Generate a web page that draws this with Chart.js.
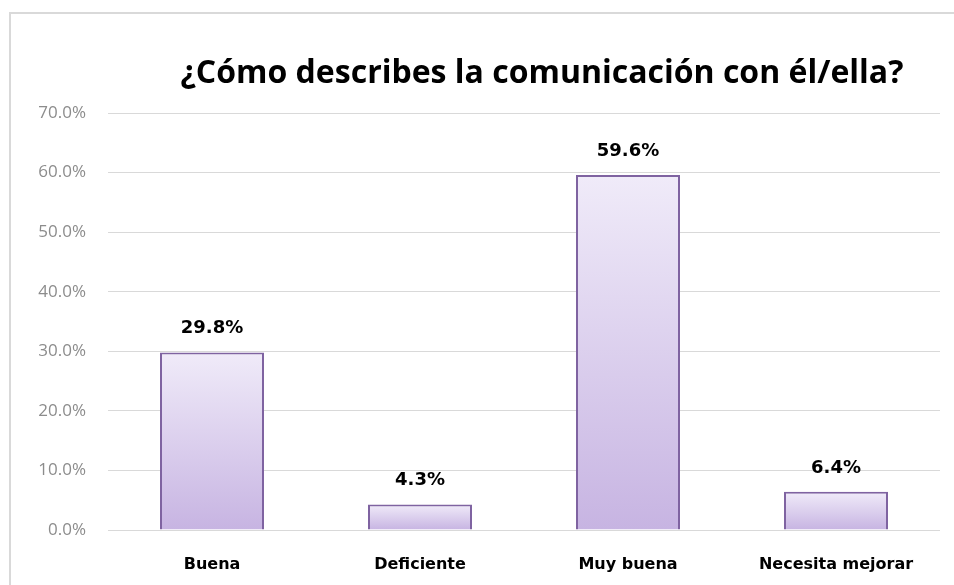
<!DOCTYPE html>
<html>
<head>
<meta charset="utf-8">
<script src="https://cdn.jsdelivr.net/npm/chart.js@4.4.1/dist/chart.umd.min.js"></script>
<style>
  html, body { margin: 0; padding: 0; background: #fff; }
  #wrap { width: 954px; height: 585px; position: relative; }
</style>
</head>
<body>
<div id="wrap"><canvas id="commChart"></canvas></div>
<script>
// data
const chartTitle = '¿Cómo describes la comunicación con él/ella?';
const categories = ['Buena', 'Deficiente', 'Muy buena', 'Necesita mejorar'];
const percentValues = [29.8, 4.3, 59.6, 6.4];
const yMax = 70;
const yStep = 10;

// gradient per bar, light on top and darker at the bottom
function barFill(context) {
    const chart = context.chart;
    const y = chart.scales.y;
    if (!chart.chartArea || !y) return '#ddd0ef';
    const v = context.raw;
    const top = y.getPixelForValue(v);
    const bottom = y.getPixelForValue(0);
    if (!isFinite(top) || !isFinite(bottom) || top === bottom) return '#ddd0ef';
    const g = chart.ctx.createLinearGradient(0, top, 0, bottom);
    g.addColorStop(0, '#f0ebf9');
    g.addColorStop(1, '#c7b4e2');
    return g;
}

// frame round the chart and the title
const framePlugin = {
    id: 'frame',
    beforeDraw(chart) {
        const ctx = chart.ctx;
        ctx.save();
        ctx.strokeStyle = '#d9d9d9';
        ctx.lineWidth = 2;
        ctx.beginPath();
        ctx.moveTo(10, chart.height);
        ctx.lineTo(10, 13);
        ctx.lineTo(chart.width, 13);
        ctx.stroke();
        ctx.restore();
    },
    afterDraw(chart) {
        const ctx = chart.ctx;
        const area = chart.chartArea;
        ctx.save();
        ctx.fillStyle = '#000';
        ctx.font = 'bold 32px "Open Sans", sans-serif';
        ctx.textAlign = 'center';
        ctx.textBaseline = 'middle';
        ctx.fillText(chartTitle, (area.left + area.right) / 2 + 18, 74);
        ctx.restore();
    }
};

// value labels above bars
const valueLabels = {
    id: 'valueLabels',
    afterDatasetsDraw(chart) {
        const ctx = chart.ctx;
        const meta = chart.getDatasetMeta(0);
        ctx.save();
        ctx.fillStyle = '#000';
        ctx.font = 'bold 18px "DejaVu Sans", sans-serif';
        ctx.textAlign = 'center';
        ctx.textBaseline = 'bottom';
        meta.data.forEach(function(bar, i) {
            ctx.fillText(percentValues[i].toFixed(1) + '%', bar.x, bar.y - 15);
        });
        ctx.restore();
    }
};

var ctx = document.getElementById('commChart').getContext('2d');
var commChart = new Chart(ctx, {
    type: 'bar',
    data: {
        labels: categories,
        datasets: [{
            data: percentValues,
            backgroundColor: barFill,
            borderColor: '#7f63a1',
            borderWidth: 2,
            borderSkipped: 'bottom',
            barPercentage: 1.0,
            categoryPercentage: 0.5
        }]
    },
    options: {
        responsive: true,
        maintainAspectRatio: false,
        animation: false,
        layout: {
            padding: { top: 113, right: 14, bottom: 0, left: 0 }
        },
        plugins: {
            legend: { display: false },
            title: { display: false },
            tooltip: { enabled: false }
        },
        scales: {
            x: {
                grid: { display: false },
                border: { display: false },
                ticks: {
                    color: '#000',
                    padding: 17,
                    font: { family: 'DejaVu Sans', size: 16, weight: 'bold' }
                },
                afterFit: function(scale) { scale.height = 55; }
            },
            y: {
                min: 0,
                max: yMax,
                grid: { color: '#d9d9d9', lineWidth: 1, drawTicks: false },
                border: { display: false },
                ticks: {
                    stepSize: yStep,
                    color: '#8c8c8c',
                    padding: 22,
                    font: { family: 'Open Sans', size: 17 },
                    callback: function(v) { return v.toFixed(1) + '%'; }
                },
                afterFit: function(scale) { scale.width = 108; }
            }
        }
    },
    plugins: [framePlugin, valueLabels]
});
</script>
</body>
</html>
